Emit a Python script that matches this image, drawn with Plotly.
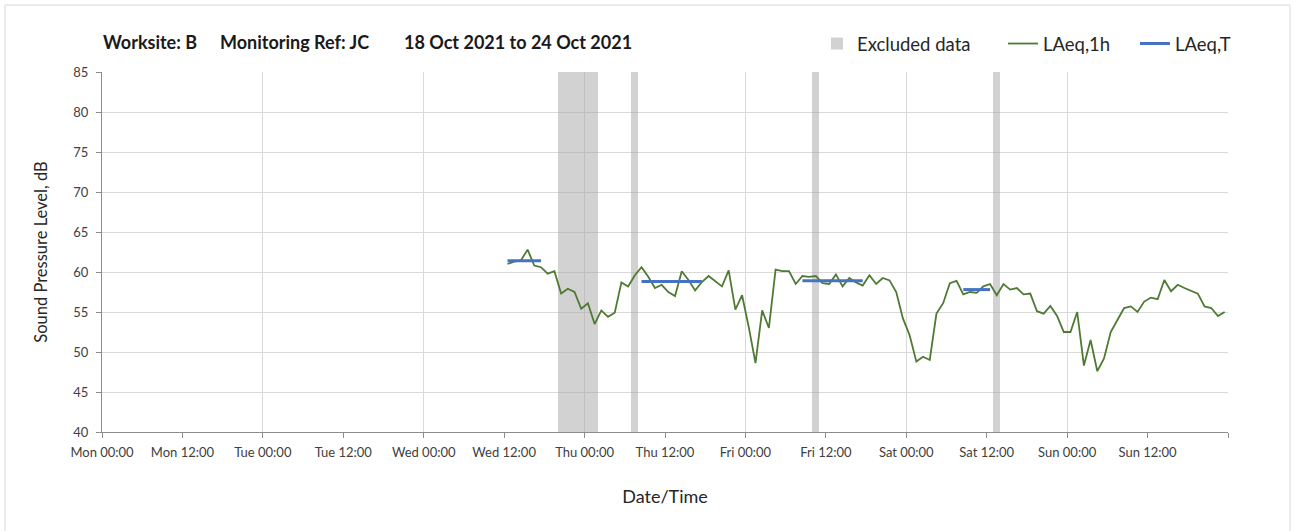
import pandas as pd
import plotly.graph_objects as go

# ---------------- data ----------------
laeq_1h_start = "2021-10-20 12:30"
laeq_1h = [
    61.0, 61.3, 61.45, 62.8, 60.8, 60.6, 59.8, 60.1, 57.3, 57.9,
    57.5, 55.4, 56.1, 53.5, 55.2, 54.4, 54.9, 58.7, 58.2, 59.6,
    60.6, 59.4, 58.0, 58.4, 57.5, 57.0, 60.1, 59.0, 57.7, 58.75,
    59.5, 58.9, 58.2, 60.2, 55.3, 57.1, 53.1, 48.6,
    55.2, 53.0, 60.3, 60.1, 60.1, 58.5, 59.5, 59.4, 59.5, 58.6,
    58.5, 59.7, 58.2, 59.25, 58.7, 58.3, 59.6, 58.5, 59.25, 58.95,
    57.5, 54.2, 52.1, 48.8, 49.4, 49.0, 54.8, 56.1, 58.6, 58.9,
    57.2, 57.5, 57.4, 58.2, 58.5, 57.1,
    58.5, 57.8, 58.0, 57.2, 57.3, 55.1, 54.8, 55.75, 54.5, 52.5,
    52.5, 55.0, 48.3, 51.5, 47.6, 49.2, 52.5, 54.0, 55.5, 55.7,
    55.0, 56.3, 56.8, 56.6, 59.0, 57.6, 58.4, 58.0, 57.6, 57.3,
    55.7, 55.5, 54.5, 55.0,
]

laeq_t_start = ["2021-10-20 12:30", "2021-10-21 08:30", "2021-10-22 08:30", "2021-10-23 08:30"]
laeq_t_end = ["2021-10-20 17:30", "2021-10-21 17:30", "2021-10-22 17:30", "2021-10-23 12:30"]
laeq_t = [61.4, 58.8, 58.9, 57.8]

excluded_start = ["2021-10-20 20:00", "2021-10-21 07:00", "2021-10-22 10:00", "2021-10-23 13:00"]
excluded_end = ["2021-10-21 02:00", "2021-10-21 08:00", "2021-10-22 11:00", "2021-10-23 14:00"]

x_start = "2021-10-18 00:00"
x_end = "2021-10-25 00:00"
y_min, y_max = 40, 85
tick_times = pd.date_range(x_start, x_end, freq="12h")
tick_labels = [t.strftime("%a %H:%M") for t in tick_times[:-1]] + [""]

title_parts = ["Worksite: B", "Monitoring Ref: JC", "18 Oct 2021 to 24 Oct 2021"]

# ---------------- figure ----------------
FONT = "Lato"
W, H = 1295, 531
ml, mr, mt, mb = 102, 67, 72, 99
pw, ph = W - ml - mr, H - mt - mb


def px_x(px):
    return (px - ml) / pw


def px_y(py):
    return (ph + mt - py) / ph


fig = go.Figure()

ex_s = pd.to_datetime(excluded_start)
ex_e = pd.to_datetime(excluded_end)
fig.add_trace(go.Bar(
    x=ex_s, y=[y_max - y_min] * len(ex_s), base=y_min,
    width=[(e - s).total_seconds() * 1000 for s, e in zip(ex_s, ex_e)],
    offset=0, marker=dict(color="#a6a6a6", line=dict(width=0)), opacity=0.5,
    name="Excluded data", hoverinfo="skip", legend="legend",
))

times = pd.date_range(laeq_1h_start, periods=len(laeq_1h), freq="h")
fig.add_trace(go.Scatter(
    x=times, y=laeq_1h, mode="lines", name="LAeq,1h",
    line=dict(color="#4e7a34", width=1.8), legend="legend2",
))

bx, by = [], []
for s, e, v in zip(laeq_t_start, laeq_t_end, laeq_t):
    bx += [pd.Timestamp(s), pd.Timestamp(e), None]
    by += [v, v, None]
fig.add_trace(go.Scatter(
    x=bx, y=by, mode="lines", name="LAeq,T",
    line=dict(color="#4472C4", width=3), legend="legend3",
))

axis_col = "#8c8c8c"
grid_col = "#d9d9d9"
tick_font = dict(family=FONT, size=13, color="#404040")
legend_font = dict(family=FONT, size=18.5, color="#262626")


def leg(left_px):
    return dict(
        orientation="h", x=px_x(left_px), xanchor="left", y=px_y(44), yanchor="middle",
        font=legend_font, bgcolor="rgba(0,0,0,0)", itemwidth=30,
    )


fig.update_layout(
    width=W, height=H,
    margin=dict(l=ml, r=mr, t=mt, b=mb, autoexpand=False),
    paper_bgcolor="white", plot_bgcolor="white",
    bargap=0,
    showlegend=True,
    legend=leg(817),
    legend2=leg(1003),
    legend3=leg(1135),
    xaxis=dict(
        type="date", range=[x_start, x_end],
        tickvals=tick_times, ticktext=tick_labels,
        ticks="outside", ticklen=5, tickcolor=axis_col,
        showgrid=False, showline=True, linecolor=axis_col, linewidth=1,
        tickfont=tick_font, ticklabelstandoff=3, automargin=False,
        title=dict(text="Date/Time", font=dict(family=FONT, size=18, color="#262626"), standoff=31),
        zeroline=False,
    ),
    xaxis2=dict(
        type="date", overlaying="x", matches="x", range=[x_start, x_end],
        tick0=x_start, dtick=86400000, showgrid=True, gridcolor=grid_col, gridwidth=1,
        showticklabels=False, ticks="", showline=False, zeroline=False,
    ),
    yaxis=dict(
        range=[y_min, y_max], tick0=y_min, dtick=5,
        ticks="outside", ticklen=5, tickcolor=axis_col,
        showgrid=True, gridcolor=grid_col, gridwidth=1,
        showline=True, linecolor=axis_col, linewidth=1,
        tickfont=tick_font, ticklabelstandoff=5, zeroline=False, automargin=False,
        title=dict(text="Sound Pressure Level, dB", font=dict(family=FONT, size=16.5, color="#262626"), standoff=21),
    ),
    font=dict(family=FONT),
)

# invisible anchor trace for xaxis2 so its day gridlines render
fig.add_trace(go.Scatter(x=[x_start, x_end], y=[y_min, y_min], xaxis="x2", mode="markers",
                         marker=dict(opacity=0), showlegend=False, hoverinfo="skip"))

title_px = [101, 218, 402]
for txt, px in zip(title_parts, title_px):
    fig.add_annotation(
        text="<b>" + txt + "</b>", xref="paper", yref="paper",
        x=px_x(px), y=px_y(42), xanchor="left", yanchor="middle",
        showarrow=False, font=dict(family=FONT, size=18, color="#1a1a1a"),
    )

# outer chart border
fig.add_shape(
    type="rect", xref="paper", yref="paper",
    x0=px_x(5), x1=px_x(1290), y0=px_y(540), y1=px_y(5),
    line=dict(color="#d9d9d9", width=1), fillcolor="rgba(0,0,0,0)", layer="below",
)

fig.write_html("out.html", config={"displayModeBar": False},
               post_script="document.body.style.margin='0px';")
